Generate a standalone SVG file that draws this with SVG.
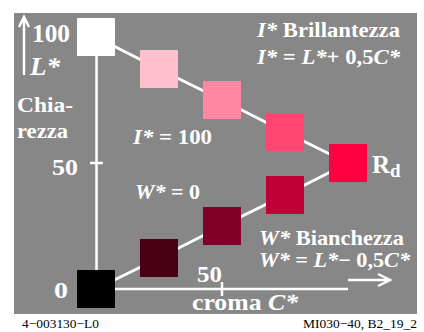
<svg xmlns="http://www.w3.org/2000/svg" width="424" height="332" viewBox="0 0 424 332">
<defs>
<style>
.t{font-family:"Liberation Serif","Times New Roman",serif;font-weight:bold;fill:#fff}
.i{font-style:italic}
.s{font-family:"Liberation Serif","Times New Roman",serif;font-size:13px;fill:#000}
.ln{stroke:#fff;stroke-width:3;fill:none}
.ax{stroke:#fff;stroke-width:2.5;fill:none}
</style>
</defs>
<rect x="0" y="0" width="424" height="332" fill="#fff"/>
<rect x="14" y="13" width="403" height="301" fill="#878787"/>
<g id="connectors">
<polyline class="ln" points="96,37 159,69 222,100 285,132 348,163"/>
<polyline class="ln" points="96,289 159,258 222,226 285,195 348,163"/>
</g>
<g id="axes">
<line class="ax" x1="96.5" y1="56" x2="96.5" y2="270"/>
<line class="ax" x1="90" y1="163" x2="103" y2="163"/>
<line class="ax" x1="115" y1="289" x2="348" y2="289"/>
<line class="ax" x1="222" y1="282" x2="222" y2="296"/>
<line class="ax" x1="24" y1="75" x2="24" y2="17"/>
<polyline class="ax" points="19,27 24,17 29,27"/>
<line class="ax" x1="348" y1="280" x2="390" y2="280"/>
<polyline class="ax" points="378,274 390,280 378,286"/>
</g>
<g id="n1"><rect x="77" y="18" width="38" height="38" fill="#ffffff"/></g>
<g id="n2"><rect x="140" y="50" width="38" height="38" fill="#ffbfcc"/></g>
<g id="n3"><rect x="203" y="81" width="38" height="38" fill="#ff87a2"/></g>
<g id="n4"><rect x="266" y="113" width="38" height="38" fill="#ff4570"/></g>
<g id="n5"><rect x="329" y="144" width="38" height="38" fill="#ff0040"/></g>
<g id="n6"><rect x="266" y="176" width="38" height="38" fill="#c00035"/></g>
<g id="n7"><rect x="203" y="207" width="38" height="38" fill="#80002a"/></g>
<g id="n8"><rect x="140" y="239" width="38" height="38" fill="#4a0014"/></g>
<g id="n9"><rect x="77" y="270" width="38" height="38" fill="#000000"/></g>
<g id="labels">
<text class="t" x="32" y="42" font-size="25" textLength="38" lengthAdjust="spacingAndGlyphs">100</text>
<text class="t i" x="30" y="75" font-size="25" textLength="30" lengthAdjust="spacingAndGlyphs">L*</text>
<text class="t" x="17" y="112" font-size="21" textLength="56" lengthAdjust="spacingAndGlyphs">Chia-</text>
<text class="t" x="17" y="138" font-size="21" textLength="51" lengthAdjust="spacingAndGlyphs">rezza</text>
<text class="t" x="52" y="175" font-size="24" textLength="26" lengthAdjust="spacingAndGlyphs">50</text>
<text class="t" x="54" y="298" font-size="24" textLength="14" lengthAdjust="spacingAndGlyphs">0</text>
<text class="t" x="197" y="282" font-size="24" textLength="25" lengthAdjust="spacingAndGlyphs">50</text>
<text class="t" x="192" y="310" font-size="23" textLength="106" lengthAdjust="spacingAndGlyphs">croma <tspan class="i">C*</tspan></text>
<text class="t" x="133" y="144" font-size="21" textLength="79" lengthAdjust="spacingAndGlyphs"><tspan class="i">I*</tspan> = 100</text>
<text class="t" x="135" y="199" font-size="21" textLength="65" lengthAdjust="spacingAndGlyphs"><tspan class="i">W*</tspan> = 0</text>
<text class="t" x="257" y="37" font-size="22" textLength="143" lengthAdjust="spacingAndGlyphs"><tspan class="i">I*</tspan> Brillantezza</text>
<text class="t" x="257" y="64" font-size="22" textLength="143" lengthAdjust="spacingAndGlyphs"><tspan class="i">I*</tspan> = <tspan class="i">L*</tspan>+ 0,5<tspan class="i">C*</tspan></text>
<text class="t" x="372" y="173" font-size="25">R<tspan font-size="19" dy="4">d</tspan></text>
<text class="t" x="259" y="245" font-size="21" textLength="145" lengthAdjust="spacingAndGlyphs"><tspan class="i">W*</tspan> Bianchezza</text>
<text class="t" x="259" y="267" font-size="21" textLength="151" lengthAdjust="spacingAndGlyphs"><tspan class="i">W*</tspan> = <tspan class="i">L*</tspan>− 0,5<tspan class="i">C*</tspan></text>
<text class="s" x="22" y="328" textLength="77" lengthAdjust="spacingAndGlyphs">4−003130−L0</text>
<text class="s" x="303" y="328" textLength="114" lengthAdjust="spacingAndGlyphs">MI030−40, B2_19_2</text>
</g>
</svg>
